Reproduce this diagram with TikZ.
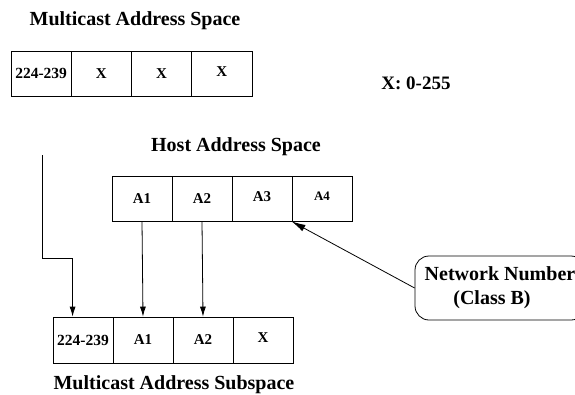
\documentclass[tikz,border=0pt]{standalone}
\usepackage{fontspec}
\setmainfont{Liberation Serif}
\usetikzlibrary{arrows.meta,calc}
\begin{document}
\begin{tikzpicture}[x=1pt,y=-1pt,
  cell/.style={draw, line width=0.8pt, inner sep=0pt, minimum width=60pt, minimum height=45pt, font=\bfseries\fontsize{15}{17}\selectfont},
  title/.style={font=\bfseries\fontsize{20}{22}\selectfont, inner sep=0pt},
  arr/.style={line width=0.8pt, -{Latex[length=10pt,width=6pt]}}
]
\useasboundingbox (0,0) rectangle (575,394);
% titles
\node[title] (t1) at (135,21) {Multicast Address Space};
\node[title, font=\bfseries\fontsize{19}{21}\selectfont] (xr) at (416,83) {X: 0-255};
\node[title] (t2) at (236,147) {Host Address Space};
\node[title] (t3) at (174,385) {Multicast Address Subspace};
% top row
\node[cell, minimum width=60.25pt, font=\bfseries\fontsize{15.5}{17}\selectfont] (m0) at (41.1,73.5) {224-239};
\node[cell, minimum width=60.25pt] (m1) at (101.4,73.5) {X};
\node[cell, minimum width=60.25pt] (m2) at (161.6,73.5) {X};
\node[cell, minimum width=60.25pt] (m3) at (221.9,73.5) {\raisebox{3pt}{X}};
% host row
\node[cell] (h0) at (142,198.5) {A1};
\node[cell] (h1) at (202,198.5) {A2};
\node[cell] (h2) at (262,198.5) {\raisebox{3pt}{A3}};
\node[cell, font=\bfseries\fontsize{13}{15}\selectfont] (h3) at (322,198.5) {\raisebox{5pt}{A4}};
% bottom row
\node[cell, minimum height=46pt, font=\bfseries\fontsize{15.5}{17}\selectfont] (b0) at (83,340) {224-239};
\node[cell, minimum height=46pt] (b1) at (143,340) {A1};
\node[cell, minimum height=46pt] (b2) at (203,340) {A2};
\node[cell, minimum height=46pt] (b3) at (263,340) {\raisebox{4pt}{X}};
% network number box
\node[draw, line width=0.8pt, rounded corners=14pt, minimum width=170pt, minimum height=64pt,
  align=center, font=\bfseries\fontsize{20}{24}\selectfont, inner sep=0pt] (net) at (500,288)
  {Network Number\\\hspace*{-16pt}(Class B)};
% connectors
\coordinate (src) at (42,155);
\draw[arr] (src) -- (42,258) -| ([xshift=20pt]b0.north west);
\draw[arr] (h0.south) -- (b1.north);
\draw[arr] (h1.south) -- (b2.north);
\draw[arr, -{Latex[length=14pt,width=7pt]}] (net.west) -- (h3.south west);
\end{tikzpicture}
\end{document}
